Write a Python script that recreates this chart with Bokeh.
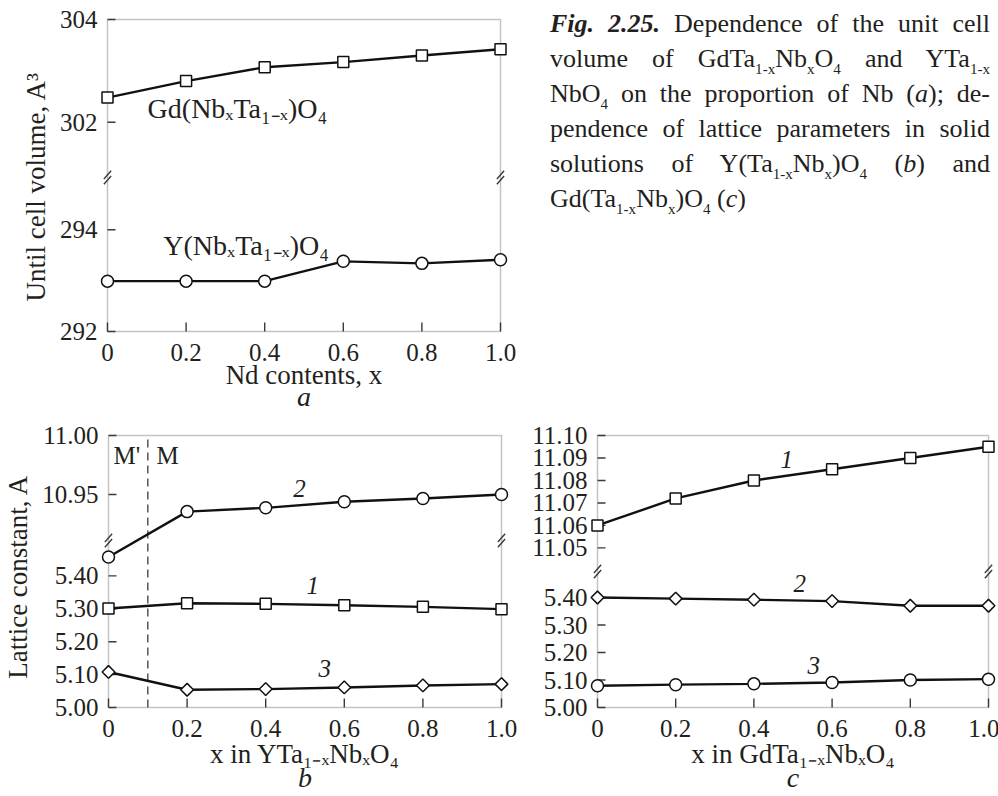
from bokeh.plotting import figure
from bokeh.models import Range1d, LinearAxis, FixedTicker, BoxAnnotation, Label, Div
from bokeh.layouts import row, column
from bokeh.embed import file_html
from bokeh.resources import INLINE

FONT = "Liberation Serif"
INK = "#231f20"
FRAME = "#3a3a3a"

# ---------------- data ----------------
x_vals = [0.0, 0.2, 0.4, 0.6, 0.8, 1.0]
x_ticks = [0.0, 0.2, 0.4, 0.6, 0.8, 1.0]
x_tick_labels = ["0", "0.2", "0.4", "0.6", "0.8", "1.0"]

# panel a: unit cell volume
a_gd = [302.48, 302.80, 303.07, 303.17, 303.30, 303.42]
a_y = [292.99, 292.99, 292.99, 293.38, 293.34, 293.41]
a_low_ticks = [292, 294]
a_low_labels = ["292", "294"]
a_high_ticks = [302, 304]
a_high_labels = ["302", "304"]

# panel b: Y(Ta1-xNbx)O4 lattice constants
b_s2 = [10.897, 10.9355, 10.9387, 10.9438, 10.9466, 10.950]
b_s1 = [5.301, 5.317, 5.315, 5.311, 5.306, 5.299]
b_s3 = [5.108, 5.054, 5.056, 5.061, 5.067, 5.071]
b_low_ticks = [5.00, 5.10, 5.20, 5.30, 5.40]
b_low_labels = ["5.00", "5.10", "5.20", "5.30", "5.40"]
b_high_ticks = [10.95, 11.00]
b_high_labels = ["10.95", "11.00"]
b_phase_boundary = 0.1

# panel c: Gd(Ta1-xNbx)O4 lattice constants
c_s1 = [11.060, 11.072, 11.080, 11.085, 11.090, 11.095]
c_s2 = [5.400, 5.396, 5.392, 5.387, 5.370, 5.370]
c_s3 = [5.079, 5.083, 5.086, 5.091, 5.100, 5.103]
c_low_ticks = [5.00, 5.10, 5.20, 5.30, 5.40]
c_low_labels = ["5.00", "5.10", "5.20", "5.30", "5.40"]
c_high_ticks = [11.05, 11.06, 11.07, 11.08, 11.09, 11.10]
c_high_labels = ["11.05", "11.06", "11.07", "11.08", "11.09", "11.10"]

PADX = 10     # horizontal frame padding around the drawn box (keeps edge markers whole)
TICK = 8      # inward tick length, px


def make_panel(box_w, box_h, low0, low_k, high1, high_k, brk_off,
               low_ticks, low_labels, high_ticks, high_labels,
               borders, pads, xlabel, ylabel, letter, xlabel_standoff, letter_standoff):
    left, right, top, bottom = borders
    pad_t, pad_b = pads
    p = figure(frame_width=box_w + 2 * PADX, frame_height=box_h + pad_t + pad_b,
               x_range=Range1d(-PADX / box_w, 1 + PADX / box_w),
               y_range=Range1d(low0 - pad_b / low_k, low0 + (box_h + pad_t) / low_k),
               output_backend="svg", toolbar_location=None,
               x_axis_type=None, y_axis_type=None,
               min_border_left=left, min_border_right=right,
               min_border_top=top, min_border_bottom=bottom)
    p.extra_y_ranges = {"high": Range1d(high1 - (box_h + pad_b) / high_k, high1 + pad_t / high_k)}
    p.outline_line_color = None
    p.background_fill_color = "white"
    p.border_fill_color = "white"

    def hi_to_lo(v):
        return low0 + (v - (high1 - box_h / high_k)) * high_k / low_k

    box_top = low0 + box_h / low_k
    p.add_layout(BoxAnnotation(left=0, right=1, bottom=low0, top=box_top,
                               fill_alpha=0, line_color=FRAME, line_width=1.5,
                               level="underlay"))

    common = dict(axis_line_color=None, major_tick_in=0, major_tick_out=0,
                  minor_tick_line_color=None, major_tick_line_color=None,
                  major_label_text_font=FONT, major_label_text_font_size="25px",
                  major_label_text_color=INK,
                  axis_label_text_font=FONT, axis_label_text_font_size="27px",
                  axis_label_text_font_style="normal", axis_label_text_color=INK)

    xa = LinearAxis(ticker=FixedTicker(ticks=x_ticks, minor_ticks=[]),
                    major_label_overrides={t: l for t, l in zip(x_ticks, x_tick_labels)},
                    axis_label=xlabel, major_label_standoff=12 - pad_b,
                    axis_label_standoff=xlabel_standoff, **common)
    p.add_layout(xa, "below")

    # panel letter: an extra, tick-less axis whose title is the letter
    la = LinearAxis(ticker=FixedTicker(ticks=[], minor_ticks=[]), axis_label=letter,
                    major_label_standoff=0, axis_label_standoff=letter_standoff,
                    **{**common, "axis_label_text_font_style": "italic",
                       "axis_label_text_font_size": "28px"})
    p.add_layout(la, "below")

    yt = list(low_ticks) + [hi_to_lo(v) for v in high_ticks]
    yl = list(low_labels) + list(high_labels)
    ya = LinearAxis(ticker=FixedTicker(ticks=yt, minor_ticks=[]),
                    major_label_overrides={t: l for t, l in zip(yt, yl)},
                    axis_label=ylabel, major_label_standoff=0, axis_label_standoff=6,
                    **common)
    p.add_layout(ya, "left")

    # inward tick marks on the box edges
    p.segment(x0=[0] * len(yt), y0=yt, x1=[TICK / box_w] * len(yt), y1=yt,
              line_color=FRAME, line_width=1.4)
    p.segment(x0=x_ticks, y0=[low0] * len(x_ticks), x1=x_ticks,
              y1=[low0 + (TICK + 1) / low_k] * len(x_ticks),
              line_color=FRAME, line_width=1.4)

    # axis break marks
    brk = high1 - brk_off / high_k
    d = 2.6 / high_k
    p.scatter(x=[0, 0, 1, 1], y=[brk + d, brk - d, brk + d, brk - d], y_range_name="high",
              marker="dash", size=11, angle=0.85, line_color=FRAME, line_width=1.4)
    return p


def series(p, ys, marker, rng="default", size=11, angle=0.0):
    p.line(x_vals, ys, y_range_name=rng, line_color="#111111", line_width=2.4)
    p.scatter(x_vals, ys, y_range_name=rng, marker=marker, size=size, angle=angle,
              fill_color="white", line_color="#111111", line_width=1.5)


def label(p, x, y, text, rng="default", italic=True, align="center", size="25px"):
    p.add_layout(Label(x=x, y=y, y_range_name=rng, text=text, text_font=FONT,
                       text_font_style="italic" if italic else "normal",
                       text_font_size=size, text_color=INK, text_align=align,
                       text_baseline="middle"))


DIAMOND = 0.785398

# ---------------- panel a ----------------
pa = make_panel(393, 312, 292, 50.85, 304, 51.35, 158,
                a_low_ticks, a_low_labels, a_high_ticks, a_high_labels,
                (97, 10, 17, 60), (2, 24), "Nd contents, x", "Until cell volume, A\u00b3", "a",
                -4, -12)
series(pa, a_gd, "square", "high", size=11)
series(pa, a_y, "circle", "default", size=12)
label(pa, 0.102, 302.27, "Gd(Nb\u2093Ta\u2081\u208b\u2093)O\u2084", "high", italic=False,
      align="left", size="28px")
label(pa, 0.142, 293.69, "Y(Nb\u2093Ta\u2081\u208b\u2093)O\u2084", "default", italic=False,
      align="left", size="28px")

# ---------------- panel b ----------------
pb = make_panel(393, 272, 5.00, 329, 11.00, 1180, 105,
                b_low_ticks, b_low_labels, b_high_ticks, b_high_labels,
                (97, 8, 18, 77), (2, 12), "x in YTa\u2081\u208b\u2093Nb\u2093O\u2084",
                "Lattice constant, A", "b", -1, -10)
pb.segment(x0=[b_phase_boundary], y0=[5.00], x1=[b_phase_boundary], y1=[5.00 + 272 / 329],
           line_color="#555555", line_width=1.5, line_dash="8 5")
series(pb, b_s2, "circle", "high", size=12)
series(pb, b_s1, "square", "default", size=11)
series(pb, b_s3, "square", "default", size=9, angle=DIAMOND)
label(pb, 0.013, 10.983, "M'", "high", italic=False, align="left", size="25px")
label(pb, 0.122, 10.983, "M", "high", italic=False, align="left", size="25px")
label(pb, 0.486, 10.955, "2", "high")
label(pb, 0.52, 5.371, "1")
label(pb, 0.55, 5.118, "3")

# ---------------- panel c ----------------
pc = make_panel(391, 272, 5.00, 275, 11.10, 2248, 136,
                c_low_ticks, c_low_labels, c_high_ticks, c_high_labels,
                (68, 1, 18, 77), (2, 12), "x in GdTa\u2081\u208b\u2093Nb\u2093O\u2084", "", "c",
                -1, -10)
series(pc, c_s1, "square", "high", size=11)
series(pc, c_s2, "square", "default", size=9, angle=DIAMOND)
series(pc, c_s3, "circle", "default", size=12)
label(pc, 0.484, 11.0895, "1", "high")
label(pc, 0.517, 5.45, "2")
label(pc, 0.553, 5.152, "3")

# ---------------- caption ----------------
J = "height:35px; line-height:35px; text-align: justify; text-align-last: justify; white-space: nowrap;"
L = "height:35px; line-height:35px; white-space: nowrap;"
S = "<span style='font-size:58%; line-height:0; position:relative; top:0.45em;'>"
caption_html = (
    f"<div style=\"font-family:'{FONT}'; font-size:26px; line-height:35px; color:{INK};"
    f" width:440px; margin-left:30px; padding-top:6px;\">"
    f"<div style='{J}'><b><i>Fig. 2.25.</i></b> Dependence of the unit cell</div>"
    f"<div style='{J}'>volume of GdTa{S}1-x</span>Nb{S}x</span>O{S}4</span> and YTa{S}1-x</span></div>"
    f"<div style='{J}'>NbO{S}4</span> on the proportion of Nb (<i>a</i>); de-</div>"
    f"<div style='{J}'>pendence of lattice parameters in solid</div>"
    f"<div style='{J}'>solutions of Y(Ta{S}1-x</span>Nb{S}x</span>)O{S}4</span> (<i>b</i>) and</div>"
    f"<div style='{L}'>Gd(Ta{S}1-x</span>Nb{S}x</span>)O{S}4</span> (<i>c</i>)</div>"
    "</div>"
)
cap = Div(text=caption_html, width=478, height=415, margin=(0, 0, 0, 0))

layout = column(row(pa, cap), row(pb, pc))

with open("out.html", "w") as f:
    f.write(file_html(layout, INLINE))
